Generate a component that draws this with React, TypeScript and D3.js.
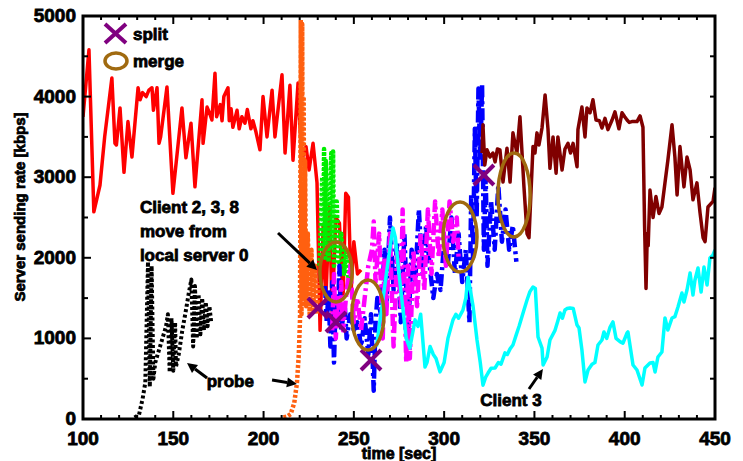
import React, { useEffect } from "react";
import * as d3 from "d3";

// time [sec], rate [kbps]
const redSeries = [
  [100, 3750], [103.3, 4580], [106, 2570], [109.4, 2900], [112, 3500], [116, 4230], [117.7, 3420], [118.5, 3400],
  [120.5, 3860], [122.7, 3060], [124.9, 3690], [127.1, 3250], [130.5, 4110], [131.6, 3960], [133, 4050], [135, 4000],
  [136.5, 4080], [138.2, 4110], [139, 3830], [141, 4110], [142.1, 3420], [143, 3500], [146.5, 4120], [149.8, 2800],
  [154.8, 3860], [157, 3240], [159.8, 3670], [162, 2880], [165.9, 3960], [166.5, 3420], [168.7, 3870], [170, 3800],
  [171.4, 3710], [173.1, 4290], [174, 3750], [176, 3900], [177, 3700], [178, 4000], [180.3, 4110], [181, 3700],
  [182, 3850], [183, 3620], [185.3, 3830], [186.5, 3600], [188, 3750], [189.7, 3670], [191, 3840], [193, 3600],
  [194.1, 3700], [195.8, 3560], [198, 3340], [199.7, 4000], [201.9, 3500], [204.7, 4080], [206.3, 3500], [210.2, 4270],
  [211.9, 3300], [214.6, 4140], [216.3, 3210], [219.1, 4170], [221, 3200], [223.5, 3380], [225.2, 3090], [227.4, 3420],
  [229.6, 2930], [231.3, 1100], [233, 2400], [234.5, 1500], [236.5, 2630], [238, 1300], [240, 2500], [242, 2430],
  [244, 1500], [245.5, 2800], [247, 2750], [248.5, 1600], [250, 2200], [252, 1800], [254, 1850],
];

const probeBlack = [
  [128.5, 20], [131, 50], [133, 250], [134.5, 450], [136, 1950], [137, 400], [138, 1900], [139, 500], [140, 700],
  [142, 850], [144, 1000], [146, 1150], [147, 1300], [148, 580], [149, 1250], [150, 600], [151, 1200], [151.5, 650],
  [153, 800], [155, 1100], [157, 1350], [158.5, 1550], [160, 1730], [161, 900], [162, 1650], [163, 1000], [164, 1550],
  [165, 1050], [166, 1500], [167, 1100], [168, 1450], [169, 1150], [170, 1400], [171, 1200],
];

const probeOrange = [
  [211, 20], [213, 30], [215, 60], [217, 200], [218.5, 450], [219.5, 800], [220.2, 1250], [220.6, 4950], [221, 1300],
  [221.4, 4900], [221.8, 1400], [222.2, 4000], [222.6, 1500], [223, 3200], [223.6, 1400], [224.5, 2300], [225.5, 1300],
  [226.5, 2100], [227.5, 1350], [228.5, 1900], [229.5, 1300], [230.5, 1700],
];

const greenSeries = [
  [231, 1900], [232.5, 3000], [233, 2100], [233.5, 3350], [234, 2000], [234.5, 3200], [236, 1950], [237.5, 3300],
  [238, 2100], [238.5, 3320], [239, 1900], [240.5, 2700], [241.5, 1950], [243, 2300], [244.5, 1800], [246, 2100],
  [247, 1750],
];

const blueSeries = [
  [234, 1650], [235, 1200], [236, 1600], [237, 900], [238, 1700], [239, 700], [240, 1500], [241, 1200], [242, 1900],
  [243, 1100], [245, 1400], [246, 1000], [248, 1300], [250, 1100], [252, 1200], [254, 900], [256, 1250], [258, 800],
  [259.5, 1300], [261, 350], [262, 1200], [263, 1500], [265, 1300], [267, 2100], [268, 1400], [270, 2500], [272, 1600],
  [274, 2200], [276, 1200], [278, 2300], [280, 1000], [282, 2100], [284, 1700], [286, 2600], [288, 1800], [290, 2400],
  [292, 1900], [294, 1500], [296, 1800], [298, 1600], [300, 2200], [302, 1900], [304, 2500], [306, 1800], [308, 2300],
  [310, 1700], [312, 2100], [314, 1200], [315, 2800], [316, 2000], [317, 3600], [318, 2500], [319, 4100], [320, 3200],
  [321, 4150], [322, 2100], [323, 3000], [324, 1900], [326, 2700], [328, 2100], [330, 2900], [332, 2200], [334, 2600],
  [336, 2100], [338, 2400], [340, 1950],
];

const magentaSeries = [
  [238, 1100], [239, 1800], [240, 1000], [241, 1500], [242, 1300], [243, 1700], [244, 1100], [246, 1600], [248, 1900],
  [250, 1200], [252, 1500], [254, 1100], [256, 1500], [258, 1900], [260, 2100], [261, 2450], [262, 1700], [264, 2300],
  [266, 1000], [267, 2000], [268, 1300], [270, 2300], [272, 900], [274, 2100], [276, 1400], [277, 2600], [279, 700],
  [280, 1900], [281, 750], [283, 2100], [285, 1400], [287, 2300], [289, 1600], [291, 2600], [293, 1800], [295, 2700],
  [297, 2000], [299, 2600], [301, 1900], [303, 2700], [305, 2200], [307, 2500], [308, 2000],
];

const client3Series = [
  [262.5, 900], [265, 1300], [268, 1800], [270.5, 2200], [271.7, 2370], [273, 2250], [275, 1800], [277, 1400],
  [279, 1000], [281, 880], [283.9, 1230], [285.5, 1150], [287, 1300], [289.4, 645], [290.5, 700], [292.2, 900],
  [294, 800], [295.5, 750], [297.7, 585], [300, 700], [302.1, 1000], [304.9, 1230], [306.5, 1300], [308, 1250],
  [310.4, 1350], [312, 1500], [313.2, 1760], [314.5, 1600], [316, 1400], [318.2, 980], [320, 700], [321.5, 420],
  [323, 520], [324.3, 570], [326, 630], [328.2, 633], [330, 700], [331.5, 680], [333.7, 820], [335, 800], [336.5, 870],
  [338.1, 918], [340, 1050], [341.5, 1150], [343.7, 1315], [345.9, 1476], [347.5, 1580], [349.2, 1638], [350.5, 1620],
  [352, 1017], [354.2, 880], [354.8, 670], [357, 770], [358.6, 980], [361.4, 1100], [363, 1220], [364.2, 1315],
  [365.5, 1250], [366.9, 1352], [368, 1370], [369.7, 1377], [371.5, 1370], [373.6, 1166], [374.7, 1130], [376.3, 856],
  [378, 460], [379.7, 608], [381.9, 680], [383.5, 700], [385.2, 918], [387.4, 980], [388.5, 1079], [390, 1000],
  [391.9, 1141], [393.5, 1204], [395.2, 1000], [397.4, 960], [399, 940], [401.3, 1067], [401.8, 1080], [404.6, 670],
  [406.8, 608], [409.6, 422], [411.2, 633], [414, 695], [415.7, 700], [416.8, 583], [418.4, 769], [420.6, 831],
  [422.3, 1253], [423.9, 1104], [426.2, 1253], [427.8, 1270], [429.5, 1390], [431.7, 1563], [432.8, 1452], [434.5, 1600],
  [436.2, 1811], [437.8, 1538], [438.9, 1725], [440.6, 1873], [442.3, 1575], [443.9, 1886], [445.6, 1662], [447.2, 1998],
  [448.9, 2035], [450, 2097],
];

const darkRedSeries = [
  [321, 3300], [321.5, 3650], [322.5, 3150], [323.7, 3340], [325.4, 3250], [327, 3300], [328.2, 3190], [329.5, 3350],
  [330.9, 3340], [332.6, 2940], [334.8, 3360], [336.5, 2940], [338.1, 3550], [340.3, 3300], [342, 3750], [344.2, 2880],
  [345.9, 2300], [347, 2250], [349.2, 3380], [350.3, 3300], [351.4, 3550], [352.5, 3400], [354.2, 3610], [355.9, 4020],
  [357.5, 3600], [358.6, 3110], [360.3, 3500], [362, 3050], [363, 3500], [365.3, 3090], [366.9, 3350], [368.6, 3420],
  [370, 3300], [371.4, 3420], [373.6, 3130], [374.1, 3590], [376.3, 3870], [378, 3500], [379.1, 3860], [380.8, 3800],
  [382.4, 3960], [384.1, 3710], [386, 3700], [387.4, 3610], [389.1, 3730], [390.7, 3590], [393, 3710], [394.6, 3810],
  [396.8, 3600], [398.5, 3800], [400, 3750], [401.3, 3710], [402.5, 3680], [404, 3690], [406.8, 3690], [408.5, 3760],
  [410.1, 3620], [411, 2400], [411.8, 1620], [412.5, 2300], [413, 2150], [414, 2840], [415.7, 2500], [417.3, 2760],
  [419, 2550], [420.6, 2630], [422.3, 2930], [423.9, 3210], [426.2, 3650], [427.8, 3250], [429, 2780], [430.6, 3380],
  [432.8, 2880], [434.5, 3250], [436.2, 3090], [437.8, 2720], [440, 2930], [441.7, 2560], [443.4, 2250], [444.5, 2200],
  [446.1, 2630], [448.9, 2700], [450, 2870],
];

const splitPoints = [[230.1, 1377], [240.1, 1203], [259.5, 732], [322, 3027]];
// centre t, centre rate, half width [sec], half height [kbps]
const mergeRegions = [[240.1, 1824, 8.9, 372], [257.8, 1290, 8.9, 434], [308.8, 2258, 9.4, 434], [338.7, 2779, 8.9, 521]];

const xTickLabels = [100, 150, 200, 250, 300, 350, 400, 450];
const yTickLabels = [0, 1000, 2000, 3000, 4000, 5000];

// from [t, v] -> to [t, v]
const arrows = [
  [[208, 2308], [229.6, 1849]],
  [[168.7, 509], [157.6, 695]],
  [[204.7, 484], [218.5, 434]],
  [[347, 372], [354.7, 620]],
];
const noteLines = ["Client 2, 3, 8", "move from", "local server 0"];

const W = 743;
const H = 461;
const font = "'Liberation Sans', Arial, Helvetica, sans-serif";

export default function App() {
  useEffect(() => {
    document.body.style.margin = "0";
  }, []);

  const x = d3.scaleLinear().domain([100, 450]).range([83, 715]);
  const y = d3.scaleLinear().domain([0, 5000]).range([419, 16]);
  const line = d3.line<number[]>().x(d => x(d[0])).y(d => y(d[1]));

  const minorX = d3.range(100, 451, 10);
  const minorY = d3.range(0, 5001, 500);

  const series = [
    { data: redSeries, color: "#ff0000", dash: null, w: 3.5 },
    { data: probeBlack, color: "#000000", dash: "3 2.5", w: 4 },
    { data: probeOrange, color: "#ff6010", dash: "3 2", w: 4.5 },
    { data: greenSeries, color: "#00ee00", dash: "3 2", w: 4.5 },
    { data: blueSeries, color: "#0000ff", dash: "12 4 3 4", w: 4.5 },
    { data: magentaSeries, color: "#ff00ff", dash: "12 4 3 4", w: 4.5 },
    { data: client3Series, color: "#00ffff", dash: null, w: 3.5 },
    { data: darkRedSeries, color: "#800000", dash: null, w: 3.5 },
  ];

  const txt = { fontFamily: font, fontWeight: 700, fill: "#000", stroke: "#000", strokeWidth: 0.8 } as const;

  return (
    <svg width={W} height={H} style={{ display: "block", background: "#fff" }}>
      <defs>
        <clipPath id="plot">
          <rect x={83} y={16} width={632} height={403} />
        </clipPath>
      </defs>

      <g clipPath="url(#plot)">
        {series.map((s, i) => (
          <path key={i} d={line(s.data) || ""} fill="none" stroke={s.color} strokeWidth={s.w}
            strokeDasharray={s.dash || undefined} strokeLinejoin="round" />
        ))}
      </g>

      {splitPoints.map((p, i) => {
        const cx = x(p[0]), cy = y(p[1]);
        return (
          <g key={i} stroke="#800080" strokeWidth={4}>
            <line x1={cx - 10} y1={cy - 10} x2={cx + 10} y2={cy + 10} />
            <line x1={cx - 10} y1={cy + 10} x2={cx + 10} y2={cy - 10} />
          </g>
        );
      })}
      {mergeRegions.map((m, i) => (
        <ellipse key={i} cx={x(m[0])} cy={y(m[1])} rx={x(m[0] + m[2]) - x(m[0])} ry={y(m[1] - m[3]) - y(m[1])}
          fill="none" stroke="#a06a10" strokeWidth={3.5} />
      ))}

      {/* frame and ticks */}
      <rect x={83} y={16} width={632} height={403} fill="none" stroke="#000" strokeWidth={3} />
      {minorX.map(t => {
        const len = t % 50 === 0 ? 8 : 4;
        return (
          <g key={t} stroke="#000" strokeWidth={2}>
            <line x1={x(t)} x2={x(t)} y1={419} y2={419 - len} />
            <line x1={x(t)} x2={x(t)} y1={16} y2={16 + len} />
          </g>
        );
      })}
      {minorY.map(v => {
        const len = v % 1000 === 0 ? 8 : 5;
        return (
          <g key={v} stroke="#000" strokeWidth={2}>
            <line x1={83} x2={83 + len} y1={y(v)} y2={y(v)} />
            <line x1={715} x2={715 - 5} y1={y(v)} y2={y(v)} />
          </g>
        );
      })}
      {xTickLabels.map(t => (
        <text key={t} x={x(t)} y={445} textAnchor="middle" fontSize={19} {...txt}>{t}</text>
      ))}
      {yTickLabels.map(v => (
        <text key={v} x={76} y={y(v) + 6} textAnchor="end" fontSize={19} {...txt}>{v}</text>
      ))}
      <text x={399} y={459} textAnchor="middle" fontSize={16} {...txt}>time [sec]</text>
      <text transform={`translate(25,207) rotate(-90)`} textAnchor="middle" fontSize={15} {...txt}>
        Server sending rate [kbps]
      </text>

      {/* legend */}
      <g stroke="#800080" strokeWidth={4}>
        <line x1={105} y1={24} x2={126} y2={43} />
        <line x1={105} y1={43} x2={126} y2={24} />
      </g>
      <text x={133} y={40} fontSize={17} {...txt}>split</text>
      <ellipse cx={116} cy={61} rx={11} ry={8} fill="none" stroke="#a06a10" strokeWidth={3.5} />
      <text x={133} y={67} fontSize={17} {...txt}>merge</text>

      {/* annotations */}
      {noteLines.map((l, i) => (
        <text key={i} x={x(131.5)} y={213 + i * 24} fontSize={17} {...txt}>{l}</text>
      ))}
      <text x={x(168.5)} y={387} fontSize={17} {...txt}>probe</text>
      <text x={x(320)} y={406} fontSize={17} {...txt}>Client 3</text>
      {arrows.map((a, i) => {
        const x1 = x(a[0][0]), y1 = y(a[0][1]), x2 = x(a[1][0]), y2 = y(a[1][1]);
        const ang = Math.atan2(y2 - y1, x2 - x1);
        const L = 10, Wd = 5;
        const bx = x2 - L * Math.cos(ang), by = y2 - L * Math.sin(ang);
        const pts = [
          [x2, y2],
          [bx + Wd * Math.sin(ang), by - Wd * Math.cos(ang)],
          [bx - Wd * Math.sin(ang), by + Wd * Math.cos(ang)],
        ];
        return (
          <g key={i}>
            <line x1={x1} y1={y1} x2={bx} y2={by} stroke="#000" strokeWidth={3} />
            <polygon points={pts.map(p => p.join(",")).join(" ")} fill="#000" />
          </g>
        );
      })}
    </svg>
  );
}
